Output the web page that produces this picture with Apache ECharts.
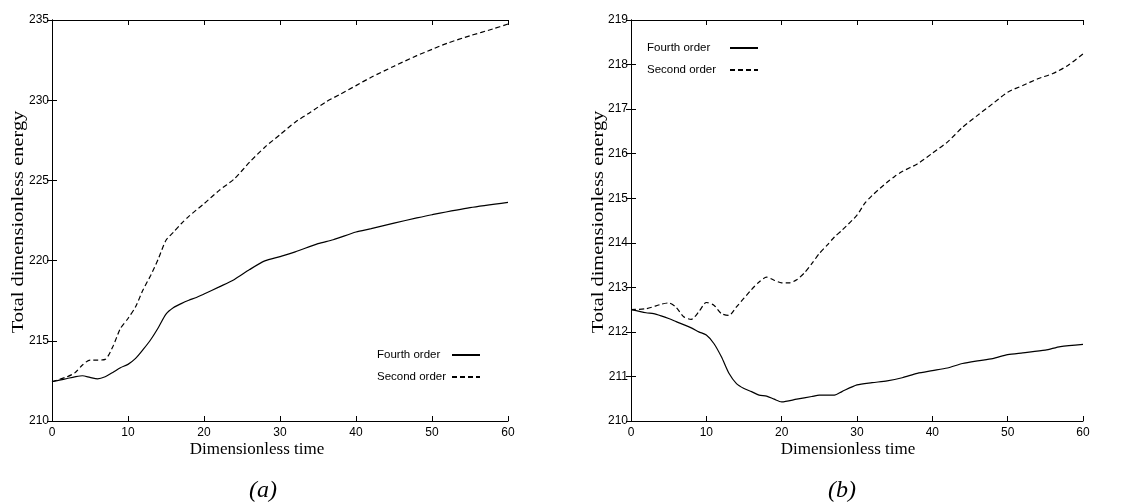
<!DOCTYPE html>
<html>
<head>
<meta charset="utf-8">
<script src="https://cdn.jsdelivr.net/npm/echarts@6/dist/echarts.min.js"></script>
<style>
html,body{margin:0;padding:0;background:#fff;}
#chart{width:1134px;height:504px;}
</style>
</head>
<body>
<div id="chart"></div>
<script>
// ---- Data ----
const seriesNames = ['Fourth order', 'Second order'];
const xTicks = [0, 10, 20, 30, 40, 50, 60];
const yTicksA = [210, 215, 220, 225, 230, 235];
const yTicksB = [210, 211, 212, 213, 214, 215, 216, 217, 218, 219];

// Panel (a)
const tA4 = [0,1,2,3,4,5,6,7,8,9,10,11,12,13,14,15,16,17,18,19,20,22,24,26,28,30,32,35,37,40,42,45,48,50,55,60];
const eA4 = [212.45,212.55,212.65,212.75,212.82,212.72,212.63,212.76,213.03,213.32,213.53,213.9,214.46,215.08,215.83,216.66,217.07,217.32,217.53,217.7,217.92,218.36,218.82,219.44,219.98,220.25,220.54,221.06,221.3,221.78,221.99,222.34,222.66,222.86,223.3,223.63];
const tA2 = [0,2,3,4,5,6,7,8,9,10,11,12,13,14,15,16,17,18,20,22,24,26,28,30,32,34,36,38,40,42,45,48,50,52,55,58,60];
const eA2 = [212.45,212.76,213.0,213.49,213.8,213.8,213.84,214.63,215.77,216.39,217.12,218.2,219.09,220.12,221.27,221.78,222.3,222.76,223.55,224.38,225.1,226.14,227.07,227.85,228.63,229.25,229.88,230.39,230.91,231.43,232.12,232.78,233.17,233.55,234.02,234.44,234.75];

// Panel (b)
const tB4 = [0,2,3,4,5,6,8,9,10,11,12,13,14,15,16,17,18,19,20,22,24,25,27,28,30,32,34,36,38,40,42,44,46,48,50,52,55,57,60];
const eB4 = [212.5,212.43,212.41,212.36,212.3,212.23,212.09,212.0,211.93,211.74,211.44,211.07,210.84,210.73,210.66,210.58,210.56,210.49,210.43,210.49,210.55,210.58,210.58,210.66,210.81,210.86,210.9,210.97,211.07,211.13,211.19,211.29,211.35,211.4,211.49,211.53,211.59,211.67,211.72];
const tB2 = [0,2,4,5,6,7,8,9,10,11,12,13,14,16,17,18,19,20,21,22,23,24,25,26,27,28,30,31,32,34,35,36,38,40,42,44,46,48,50,52,54,56,58,60];
const eB2 = [212.5,212.52,212.62,212.65,212.55,212.34,212.28,212.45,212.66,212.6,212.41,212.37,212.56,212.95,213.12,213.23,213.16,213.1,213.1,213.17,213.32,213.53,213.76,213.94,214.13,214.28,214.62,214.88,215.06,215.36,215.49,215.6,215.77,216.01,216.26,216.59,216.86,217.12,217.38,217.53,217.68,217.8,217.98,218.24];

const pairs = (ts, vs) => ts.map((t, i) => [t, vs[i]]);

// ---- Styles ----
const SANS = 'Arial';
const tickFont = { color: '#000', fontFamily: SANS, fontSize: 12 };
const axisLine = { show: true, lineStyle: { color: '#000', width: 1 } };
const axisTick = { show: true, inside: true, length: 5, lineStyle: { color: '#000', width: 1 } };

function xAx(grid, pos, labels) {
  return {
    type: 'value', gridIndex: grid, position: pos, min: 0, max: 60, interval: 10,
    axisLine, axisTick, splitLine: { show: false },
    axisLabel: labels ? Object.assign({ margin: 6 }, tickFont) : { show: false }
  };
}
function yAx(grid, pos, labels, min, max, interval, margin) {
  return {
    type: 'value', gridIndex: grid, position: pos, min, max, interval,
    axisLine, axisTick, splitLine: { show: false },
    axisLabel: labels ? Object.assign({ margin }, tickFont) : { show: false }
  };
}

function line(name, data, xi, yi, dashed) {
  return {
    name, type: 'line', xAxisIndex: xi, yAxisIndex: yi, data,
    smooth: 0.25, symbol: 'none', showSymbol: false, silent: true,
    lineStyle: { color: '#000', width: 1.2, type: dashed ? [5, 3] : 'solid' },
    itemStyle: { color: '#000' }
  };
}

const serifFont = '17px "Liberation Serif", "Times New Roman", serif';
const legendText = (w) => ({ color: '#000', fontFamily: SANS, fontSize: 11.5,
  rich: { t: { width: w, align: 'left', fontFamily: SANS, fontSize: 11.5, color: '#000' } } });

const legendBase = {
  data: seriesNames, orient: 'vertical', align: 'right', padding: 0,
  itemWidth: 28, itemHeight: 14, itemGap: 10, formatter: '{t|{name}}', selectedMode: false,
  itemStyle: { opacity: 0 }
};

const option = {
  animation: false,
  backgroundColor: '#fff',
  grid: [
    { left: 52, right: 1134 - 508, top: 20, bottom: 504 - 421 },
    { left: 631, right: 1134 - 1083, top: 20, bottom: 504 - 421 }
  ],
  xAxis: [xAx(0, 'bottom', true), xAx(0, 'top', false), xAx(1, 'bottom', true), xAx(1, 'top', false)],
  yAxis: [
    yAx(0, 'left', true, 210, 235, 5, 3), yAx(0, 'right', false, 210, 235, 5, 3),
    yAx(1, 'left', true, 210, 219, 1, 3), yAx(1, 'right', false, 210, 219, 1, 3)
  ],
  legend: [
    Object.assign({ left: 377, top: 349, textStyle: legendText(70) }, legendBase),
    Object.assign({ left: 647, top: 42, textStyle: legendText(78) }, legendBase)
  ],
  series: [
    line(seriesNames[0], pairs(tA4, eA4), 0, 0, false),
    line(seriesNames[1], pairs(tA2, eA2), 0, 0, true),
    line(seriesNames[0], pairs(tB4, eB4), 2, 2, false),
    line(seriesNames[1], pairs(tB2, eB2), 2, 2, true)
  ],
  graphic: [
    { type: 'text', x: 19, y: 222, rotation: Math.PI / 2, scaleX: 1.2, silent: true,
      style: { text: 'Total dimensionless energy', font: serifFont, fill: '#000', align: 'center', verticalAlign: 'middle' } },
    { type: 'text', x: 599, y: 222, rotation: Math.PI / 2, scaleX: 1.2, silent: true,
      style: { text: 'Total dimensionless energy', font: serifFont, fill: '#000', align: 'center', verticalAlign: 'middle' } },
    { type: 'text', x: 257, y: 450, silent: true,
      style: { text: 'Dimensionless time', font: serifFont, fill: '#000', align: 'center', verticalAlign: 'middle' } },
    { type: 'text', x: 848, y: 450, silent: true,
      style: { text: 'Dimensionless time', font: serifFont, fill: '#000', align: 'center', verticalAlign: 'middle' } },
    { type: 'text', x: 263, y: 491, silent: true,
      style: { text: '(a)', font: 'italic 24px "Liberation Serif", "Times New Roman", serif', fill: '#000', align: 'center', verticalAlign: 'middle' } },
    { type: 'text', x: 842, y: 491, silent: true,
      style: { text: '(b)', font: 'italic 24px "Liberation Serif", "Times New Roman", serif', fill: '#000', align: 'center', verticalAlign: 'middle' } }
  ]
};

const chart = echarts.init(document.getElementById('chart'), null, { renderer: 'canvas' });
chart.setOption(option);
</script>
</body>
</html>
